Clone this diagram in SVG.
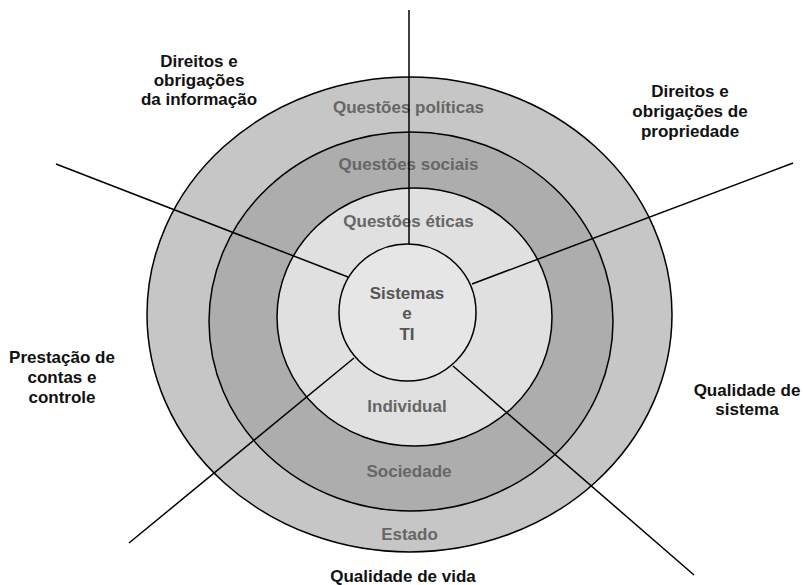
<svg xmlns="http://www.w3.org/2000/svg" width="803" height="585" viewBox="0 0 803 585">
<style>
.ring{stroke:#000;stroke-width:1.5}
.lbl{font-family:"Liberation Sans",Arial,sans-serif;font-weight:bold;font-size:17px;text-anchor:middle}
.in{fill:#666}
.core{fill:#555}
.out{fill:#111}
.conn{stroke:#000;stroke-width:1.5;fill:none}
</style>
<rect width="803" height="585" fill="#fff"/>
<g id="estado">
<ellipse class="ring" cx="409.5" cy="314.5" rx="262.5" ry="237.5" fill="#c6c6c6"/>
<text class="lbl in" x="409.5" y="540">Estado</text>
<text class="lbl in" x="408.5" y="113">Questões políticas</text>
</g>
<g id="sociedade">
<ellipse class="ring" cx="411" cy="321.5" rx="202" ry="189.5" fill="#adadad"/>
<text class="lbl in" x="409" y="477">Sociedade</text>
<text class="lbl in" x="408.5" y="170">Questões sociais</text>
</g>
<g id="individual">
<ellipse class="ring" cx="414.5" cy="317" rx="137.5" ry="129" fill="#e0e0e0"/>
<text class="lbl in" x="407" y="412">Individual</text>
<text class="lbl in" x="408.5" y="227">Questões éticas</text>
</g>
<g id="sistemas">
<ellipse class="ring" cx="407.5" cy="312.5" rx="68.5" ry="68.5" fill="#e6e6e6"/>
<text class="lbl core" x="407" y="299">Sistemas</text>
<text class="lbl core" x="407" y="319">e</text>
<text class="lbl core" x="407" y="340">TI</text>
</g>
<g id="connectors">
<line class="conn" x1="409" y1="10" x2="409" y2="244"/>
<line class="conn" x1="56" y1="164" x2="348" y2="277"/>
<line class="conn" x1="793" y1="163" x2="472" y2="284"/>
<line class="conn" x1="129" y1="543" x2="354" y2="358"/>
<line class="conn" x1="694" y1="575" x2="453" y2="366"/>
</g>
<g id="direitos-informacao">
<text class="lbl out" x="199" y="67">Direitos e</text>
<text class="lbl out" x="199" y="86">obrigações</text>
<text class="lbl out" x="199" y="105">da informação</text>
</g>
<g id="direitos-propriedade">
<text class="lbl out" x="690" y="97">Direitos e</text>
<text class="lbl out" x="690" y="117">obrigações de</text>
<text class="lbl out" x="690" y="137">propriedade</text>
</g>
<g id="prestacao-contas">
<text class="lbl out" x="62" y="363">Prestação de</text>
<text class="lbl out" x="62" y="383">contas e</text>
<text class="lbl out" x="62" y="403">controle</text>
</g>
<g id="qualidade-sistema">
<text class="lbl out" x="747" y="396">Qualidade de</text>
<text class="lbl out" x="747" y="415">sistema</text>
</g>
<g id="qualidade-vida">
<text class="lbl out" x="403" y="582">Qualidade de vida</text>
</g>
</svg>
